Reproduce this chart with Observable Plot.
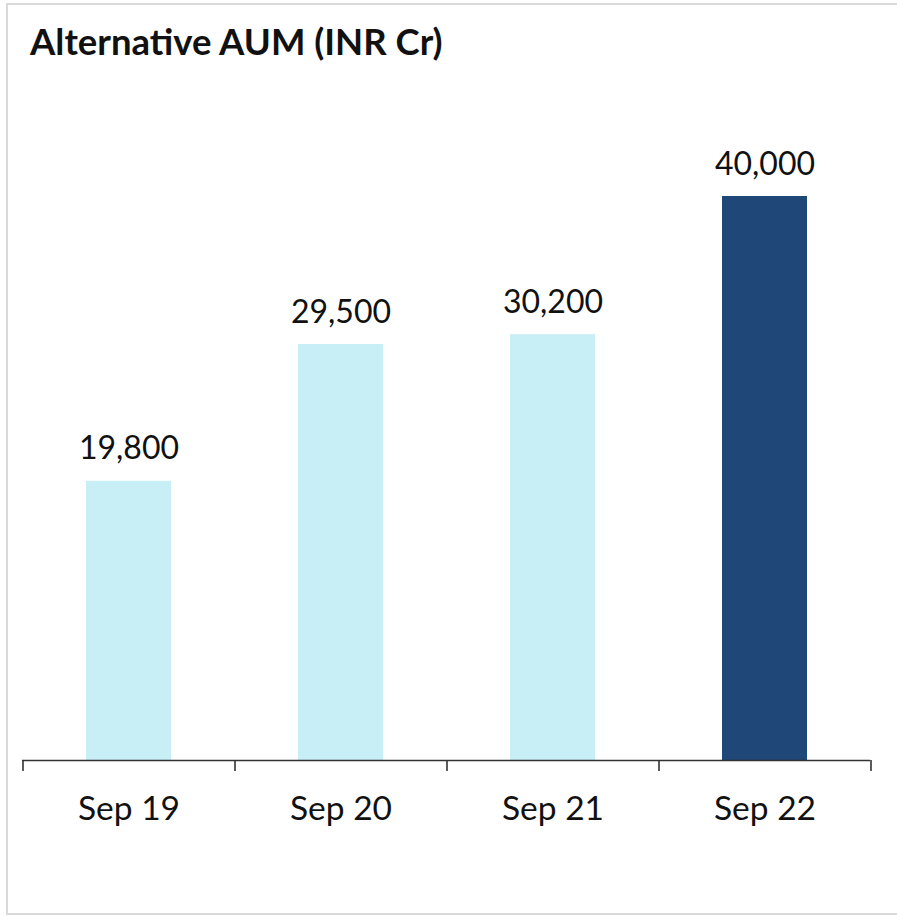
<!DOCTYPE html>
<html>
<head>
<meta charset="utf-8">
<script src="https://cdn.jsdelivr.net/npm/d3@7"></script>
<script src="https://cdn.jsdelivr.net/npm/@observablehq/plot@0.6"></script>
<style>
  html, body { margin: 0; padding: 0; width: 897px; height: 916px; overflow: hidden; background: #fff; }
  #frame { position: absolute; left: 6px; top: 3px; width: 900px; height: 912px; box-sizing: border-box; border: 2px solid #d9d9d9; }
  #title { position: absolute; left: 30px; top: 23px; font-family: Lato, "Open Sans", sans-serif; font-weight: bold; font-size: 36.5px; color: #111; white-space: nowrap; line-height: 1; }
  #chart { position: absolute; left: 0; top: 0; }
</style>
</head>
<body>
<div id="frame"></div>
<div id="chart"></div>
<div id="title">Alternative AUM (INR Cr)</div>
<script>
const categories = ["Sep 19", "Sep 20", "Sep 21", "Sep 22"];
const values = [19800, 29500, 30200, 40000];
const highlighted = "Sep 22";

const data = categories.map((c, i) => ({cat: c, value: values[i]}));

const xRange = [22, 870];
const xScale = Plot.scale({x: {type: "band", domain: categories, range: xRange, paddingInner: 0.6, paddingOuter: 0.3}});
const step = xScale.step;

const font = "Lato, 'Open Sans', sans-serif";

const chart = Plot.plot({
  width: 897,
  height: 916,
  marginLeft: 22,
  marginRight: 27,
  marginTop: 0,
  marginBottom: 0,
  style: {background: "transparent", fontFamily: font},
  x: {type: "band", domain: categories, range: xRange, paddingInner: 0.6, paddingOuter: 0.3, axis: null},
  y: {domain: [0, 40000], range: [760, 196], axis: null},
  marks: [
    Plot.barY(data, {x: "cat", y: "value", fill: d => d.cat === highlighted ? "#1F4778" : "#C8EEF6"}),
    Plot.ruleY([0], {stroke: "#333", strokeWidth: 1.6}),
    Plot.ruleX(categories, {x: d => d, y1: 0, y2: 0, dx: -step / 2, insetBottom: -11, stroke: "#333", strokeWidth: 1.6}),
    Plot.ruleX([categories[categories.length - 1]], {x: d => d, y1: 0, y2: 0, dx: step / 2, insetBottom: -11, stroke: "#333", strokeWidth: 1.6}),
    Plot.text(data, {x: "cat", y: "value", text: d => d3.format(",")(d.value), dy: -22, lineAnchor: "bottom", fontSize: 32, fill: "#111", fontFamily: font}),
    Plot.text(categories, {x: d => d, y: 0, text: d => d, dy: 59, lineAnchor: "bottom", fontSize: 33.5, fill: "#111", fontFamily: font})
  ]
});
document.getElementById("chart").appendChild(chart);
</script>
</body>
</html>
